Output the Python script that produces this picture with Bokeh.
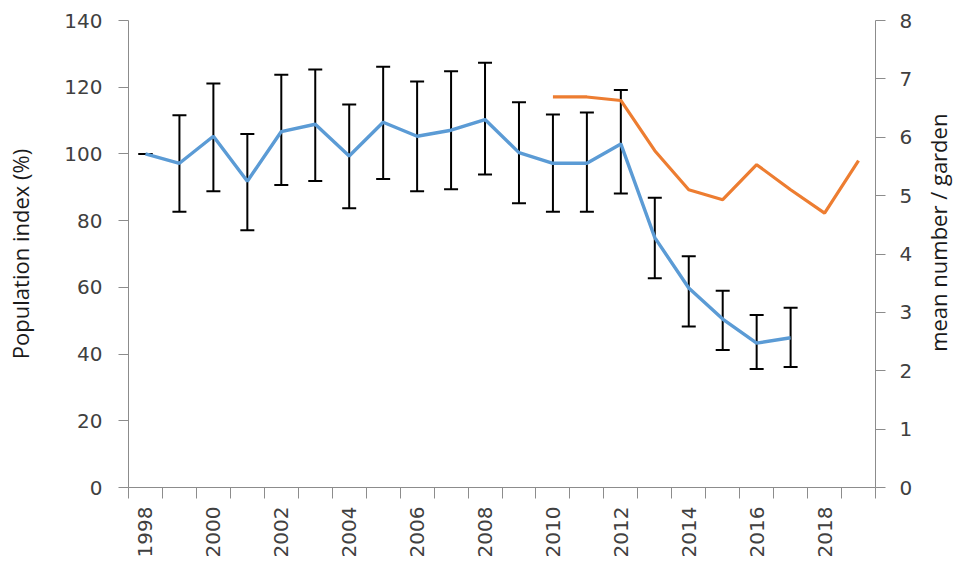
import math
from bokeh.plotting import figure
from bokeh.layouts import row
from bokeh.models import (ColumnDataSource, Range1d, LinearAxis, FixedTicker,
                          Whisker, TeeHead)
from bokeh.core.properties import value
from bokeh.embed import file_html
from bokeh.resources import INLINE

# ---- data ----
years = list(range(1998, 2018))
index_pct = [100.0, 97.2, 105.3, 91.8, 106.7, 108.9, 99.4, 109.5, 105.3, 107.1,
             110.3, 100.4, 97.2, 97.2, 103.0, 74.9, 59.8, 50.5, 43.3, 44.9]
err_upper = [100.0, 111.6, 121.1, 106.0, 123.7, 125.3, 114.8, 126.1, 121.7, 124.8,
             127.3, 115.5, 111.8, 112.4, 119.2, 86.9, 69.3, 59.0, 51.7, 53.9]
err_lower = [100.0, 82.7, 88.8, 77.1, 90.7, 91.9, 83.7, 92.5, 88.8, 89.4,
             93.8, 85.2, 82.7, 82.7, 88.1, 62.7, 48.3, 41.2, 35.5, 36.1]

garden_years = list(range(2010, 2020))
mean_per_garden = [6.69, 6.69, 6.63, 5.77, 5.10, 4.93, 5.53, 5.10, 4.70, 5.60]

label_years = list(range(1998, 2020, 2))
left_ticks = [0, 20, 40, 60, 80, 100, 120, 140]
right_ticks = [0, 1, 2, 3, 4, 5, 6, 7, 8]

left_title = "Population index (%)"
right_title = "mean number / garden"

BLUE = "#5B9BD5"
ORANGE = "#ED7D31"
AXIS = "#8C8C8C"
TXT = "#404040"
TICK_FONT = "DejaVu Sans"
TICK_SIZE = "20px"
TITLE_FONT = "Open Sans"
TITLE_SIZE = "22px"

W_MAIN, W_SIDE, H = 915, 45, 560
TOP, BOTTOM = 20, 71

p = figure(width=W_MAIN, height=H, output_backend="svg", toolbar_location=None,
           x_range=Range1d(1997.5, 2019.5), y_range=Range1d(0, 140),
           min_border_left=128, min_border_right=40, min_border_top=TOP,
           min_border_bottom=BOTTOM)
p.outline_line_color = None
p.xgrid.visible = False
p.ygrid.visible = False
p.background_fill_color = "white"

p.extra_y_ranges = {"right": Range1d(0, 8)}

# x axis
xa = p.xaxis[0]
xa.ticker = FixedTicker(ticks=label_years,
                        minor_ticks=[y - 0.5 for y in range(1998, 2021)])
xa.major_tick_out = 0
xa.major_tick_in = 0
xa.minor_tick_out = 11
xa.minor_tick_in = 0
xa.minor_tick_line_color = AXIS
xa.axis_line_color = AXIS
xa.major_label_orientation = math.pi / 2
xa.major_label_text_font = TICK_FONT
xa.major_label_text_font_size = TICK_SIZE
xa.major_label_text_color = TXT
xa.major_label_standoff = 8

# left axis
ya = p.yaxis[0]
ya.ticker = FixedTicker(ticks=left_ticks)
ya.minor_tick_out = 0
ya.minor_tick_in = 0
ya.major_tick_in = 0
ya.major_tick_out = 10
ya.major_tick_line_color = AXIS
ya.axis_line_color = AXIS
ya.major_label_text_font = TICK_FONT
ya.major_label_text_font_size = TICK_SIZE
ya.major_label_text_color = TXT
ya.major_label_standoff = 16
ya.axis_label = left_title
ya.axis_label_text_font = TITLE_FONT
ya.axis_label_text_font_style = "normal"
ya.axis_label_text_font_size = TITLE_SIZE
ya.axis_label_text_color = "#1a1a1a"
ya.axis_label_standoff = 26

# right axis
ra = LinearAxis(y_range_name="right", ticker=FixedTicker(ticks=right_ticks))
ra.minor_tick_out = 0
ra.minor_tick_in = 0
ra.major_tick_in = 0
ra.major_tick_out = 10
ra.major_tick_line_color = AXIS
ra.axis_line_color = AXIS
ra.major_label_text_font = TICK_FONT
ra.major_label_text_font_size = TICK_SIZE
ra.major_label_text_color = TXT
ra.major_label_standoff = 14
p.add_layout(ra, "right")

# blue series
src = ColumnDataSource(dict(x=years, y=index_pct, up=err_upper, lo=err_lower))
p.line("x", "y", source=src, line_color=BLUE, line_width=3.4)

w = Whisker(source=src, base="x", upper="up", lower="lo",
            line_color="black", line_width=2,
            upper_head=TeeHead(size=14, line_color="black", line_width=2),
            lower_head=TeeHead(size=14, line_color="black", line_width=2))
p.add_layout(w)

# orange series
p.line(garden_years, mean_per_garden, y_range_name="right",
       line_color=ORANGE, line_width=3.2)

# side panel carrying the right-hand axis title (reads bottom-to-top)
side = figure(width=W_SIDE, height=H, output_backend="svg", toolbar_location=None,
              x_range=Range1d(0, W_SIDE), y_range=Range1d(0, H),
              x_axis_type=None, y_axis_type=None, min_border=0)
side.outline_line_color = None
side.grid.visible = False
mid_y = H - (TOP + (H - TOP - BOTTOM) / 2)
side.text(x=[W_SIDE / 2], y=[mid_y], text=[right_title], angle=math.pi / 2,
          text_align="center", text_baseline="middle",
          text_font=value(TITLE_FONT), text_font_size=TITLE_SIZE,
          text_color="#1a1a1a")

open("out.html", "w").write(file_html(row(p, side), INLINE))
